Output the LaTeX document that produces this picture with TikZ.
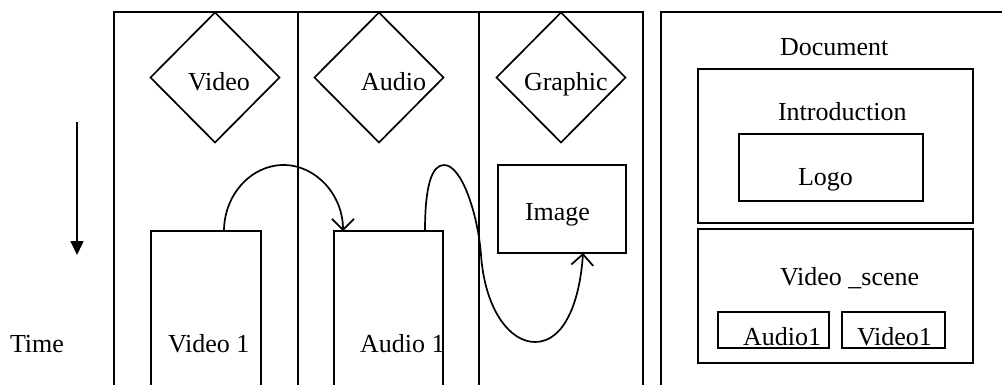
\documentclass[tikz,border=0pt]{standalone}
\usepackage{fontspec}
\setmainfont{Liberation Serif}
\usetikzlibrary{shapes.geometric,arrows.meta,fit}
\begin{document}
\begin{tikzpicture}[x=1pt,y=-1pt,
  every node/.style={inner sep=0pt,outer sep=0pt},
  line width=1.7pt,
  txt/.style={anchor=base west,font=\fontsize{26}{30}\selectfont},
  box/.style={draw,rectangle,line width=1.7pt},
  dia/.style={draw,diamond,minimum width=129pt,minimum height=130pt},
  flow/.style={-{Straight Barb[length=11pt,width=22pt,line width=1.7pt]}},
  timeflow/.style={-{Triangle[length=14pt,width=13pt]}},
]
\useasboundingbox (0,0) rectangle (1002,384);
\clip (0,0) rectangle (1002,384);

% media lanes
\node[box,fit={(114,12) (643,420)}] (lanes) {};
\draw (298,12) -- (298,420);
\draw (479,12) -- (479,420);

% lane headers
\node[dia] (dVideo)   at (215,77.5) {};
\node[dia] (dAudio)   at (379,77.5) {};
\node[dia] (dGraphic) at (561,77.5) {};
\node[txt] (tVideo)   at (188,90) {Video};
\node[txt] (tAudio)   at (361,90) {Audio};
\node[txt] (tGraphic) at (524,90) {Graphic};

% media objects
\node[box,fit={(151,231) (261,420)}] (v1) {};
\node[box,fit={(334,231) (443,420)}] (a1) {};
\node[box,fit={(498,165) (626,253)}] (img) {};
\node[txt] (tv1)  at (168,352) {Video 1};
\node[txt] (ta1)  at (360,352) {Audio 1};
\node[txt] (timg) at (525,220) {Image};

% sequencing
\draw[flow] ([xshift=18pt]v1.north)
  .. controls (224,195) and (251,165) .. (283.5,165)
  .. controls (316,165) and (343,195) .. ([xshift=-45.5pt]a1.north);
\draw[flow] ([xshift=36.5pt]a1.north)
  .. controls (425,185) and (432,165) .. (444,165)
  .. controls (462,165) and (478,215) .. (481,255)
  .. controls (485,310) and (510,342) .. (535,342)
  .. controls (565,342) and (580,300) .. ([xshift=21pt]img.south);

% time axis
\coordinate (t0) at (77,122);
\coordinate (t1) at (77,255);
\draw[timeflow] (t0) -- (t1);
\node[txt] (tTime) at (10,352) {Time};

% document structure
\node[box,fit={(661,12) (1040,420)}] (doc) {};
\node[txt] (tDoc) at (780,55) {Document};
\node[box,fit={(698,69) (973,223)}] (intro) {};
\node[txt] (tIntro) at (778,120) {Introduction};
\node[box,fit={(739,134) (923,201)}] (logo) {};
\node[txt] (tLogo) at (798,185) {Logo};
\node[box,fit={(698,229) (973,363)}] (scene) {};
\node[txt] (tScene) at (780,285) {Video \_scene};
\node[box,fit={(718,312) (829,348)}] (sa1) {};
\node[txt] (tsa1) at (743,345) {Audio1};
\node[box,fit={(842,312) (945,348)}] (sv1) {};
\node[txt] (tsv1) at (857,345) {Video1};
\end{tikzpicture}
\end{document}
